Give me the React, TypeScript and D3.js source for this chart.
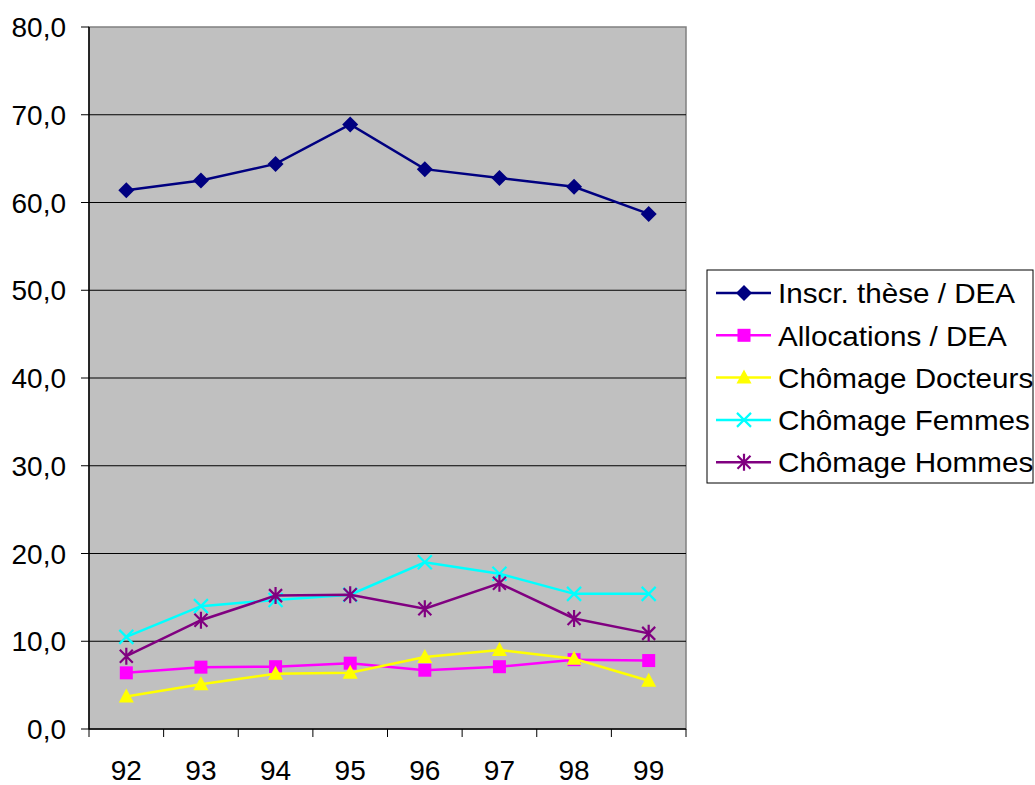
import React from "react";
import * as d3 from "d3";

const categories = ["92", "93", "94", "95", "96", "97", "98", "99"];
const inscr = [61.4, 62.5, 64.4, 68.9, 63.8, 62.8, 61.8, 58.7];
const allocations = [6.4, 7.05, 7.1, 7.5, 6.7, 7.1, 7.9, 7.8];
const chomDocteurs = [3.7, 5.1, 6.3, 6.4, 8.2, 9.0, 8.0, 5.5];
const chomFemmes = [10.5, 14.0, 14.7, 15.3, 19.0, 17.7, 15.4, 15.4];
const chomHommes = [8.3, 12.4, 15.2, 15.3, 13.7, 16.6, 12.6, 10.9];
const yTicks = [0, 10, 20, 30, 40, 50, 60, 70, 80];

const series = [
  { name: "Inscr. thèse / DEA", values: inscr, color: "#000080", marker: "diamond" },
  { name: "Allocations / DEA", values: allocations, color: "#FF00FF", marker: "square" },
  { name: "Chômage Docteurs", values: chomDocteurs, color: "#FFFF00", marker: "triangle" },
  { name: "Chômage Femmes", values: chomFemmes, color: "#00FFFF", marker: "x" },
  { name: "Chômage Hommes", values: chomHommes, color: "#800080", marker: "star" },
];

const FONT = "'Liberation Sans', Arial, sans-serif";

function Marker({ type, x, y, color }: { type: string; x: number; y: number; color: string }) {
  if (type === "diamond") {
    const r = 8;
    return <path d={`M${x},${y - r}L${x + r},${y}L${x},${y + r}L${x - r},${y}Z`} fill={color} />;
  }
  if (type === "square") {
    const r = 6.5;
    return <rect x={x - r} y={y - r} width={2 * r} height={2 * r} fill={color} />;
  }
  if (type === "triangle") {
    const r = 7.5;
    return <path d={`M${x},${y - 8}L${x + r},${y + 6}L${x - r},${y + 6}Z`} fill={color} />;
  }
  if (type === "x") {
    const r = 7;
    return (
      <path d={`M${x - r},${y - r}L${x + r},${y + r}M${x + r},${y - r}L${x - r},${y + r}`} stroke={color} strokeWidth={2.2} />
    );
  }
  const r = 6.5;
  return (
    <path
      d={`M${x - r},${y - r}L${x + r},${y + r}M${x + r},${y - r}L${x - r},${y + r}M${x},${y - r - 2}L${x},${y + r + 2}`}
      stroke={color}
      strokeWidth={2.2}
    />
  );
}

export default function App() {
  const W = 1035, H = 785;
  const left = 89, right = 686, top = 27, bottom = 729;
  const x = d3.scaleBand<string>().domain(categories).range([left, right]);
  const y = d3.scaleLinear().domain([0, 80]).range([bottom, top]);
  const cx = (c: string) => (x(c) as number) + x.bandwidth() / 2;
  const line = d3
    .line<number>()
    .x((_, i) => cx(categories[i]))
    .y((v) => y(v));

  const legendX = 707, legendY = 270, legendW = 326, legendH = 213;
  const rowY = (i: number) => 293 + i * 42.3;

  return (
    <svg width={W} height={H} style={{ position: "absolute", left: 0, top: 0 }} fontFamily={FONT}>
      <rect x={left} y={top} width={right - left} height={bottom - top} fill="#C0C0C0" stroke="#808080" strokeWidth={1.5} />
      {yTicks.map((t) => (
        <g key={t}>
          {t > 0 && t < 80 && <line x1={left} x2={right} y1={y(t)} y2={y(t)} stroke="#000" strokeWidth={1} />}
          <line x1={left - 8} x2={left} y1={y(t)} y2={y(t)} stroke="#000" strokeWidth={1} />
          <text x={66} y={y(t)} dy="0.36em" textAnchor="end" fontSize={28} fill="#000">
            {d3.format(".1f")(t).replace(".", ",")}
          </text>
        </g>
      ))}
      <line x1={left} x2={left} y1={top} y2={bottom} stroke="#000" strokeWidth={1.5} />
      <line x1={left} x2={right} y1={bottom} y2={bottom} stroke="#000" strokeWidth={1.5} />
      {d3.range(categories.length + 1).map((i) => {
        const xx = left + i * x.step();
        return <line key={i} x1={xx} x2={xx} y1={bottom} y2={bottom + 8} stroke="#000" strokeWidth={1} />;
      })}
      {categories.map((c) => (
        <text key={c} x={cx(c)} y={780} textAnchor="middle" fontSize={28} fill="#000">
          {c}
        </text>
      ))}
      {series.map((s) => (
        <g key={s.name}>
          <path d={line(s.values) || ""} fill="none" stroke={s.color} strokeWidth={2.5} />
          {s.values.map((v, i) => (
            <Marker key={i} type={s.marker} x={cx(categories[i])} y={y(v)} color={s.color} />
          ))}
        </g>
      ))}
      <rect x={legendX} y={legendY} width={legendW} height={legendH} fill="#fff" stroke="#000" strokeWidth={1} />
      {series.map((s, i) => (
        <g key={s.name}>
          <line x1={716} x2={771} y1={rowY(i)} y2={rowY(i)} stroke={s.color} strokeWidth={2.5} />
          <Marker type={s.marker} x={744} y={rowY(i)} color={s.color} />
          <text x={778} y={rowY(i)} dy="0.36em" fontSize={28.5} fill="#000" transform={`translate(778,0) scale(1.04,1) translate(-778,0)`}>
            {s.name}
          </text>
        </g>
      ))}
    </svg>
  );
}
